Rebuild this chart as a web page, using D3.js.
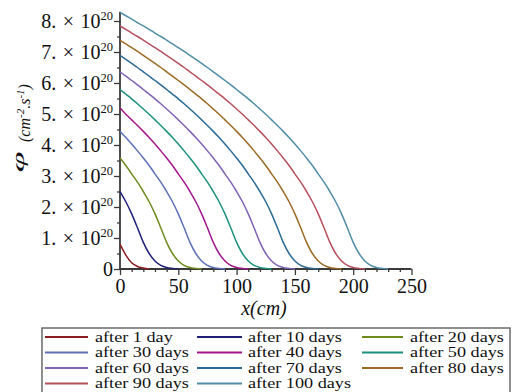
<!DOCTYPE html>
<html>
<head>
<meta charset="utf-8">
<script src="https://cdn.jsdelivr.net/npm/d3@7"></script>
<style>
  html, body { margin: 0; padding: 0; background: #fff; }
  svg { display: block; }
  text { font-family: "Liberation Serif", "DejaVu Serif", serif; fill: #111; }
</style>
</head>
<body>
<svg id="chart" width="512" height="392"></svg>
<script>
// Neutron flux profiles phi(x) after a given number of days (units of 1e20 cm^-2 s^-1)
const xGrid = [0,5,10,15,20,25,30,35,40,45,50,55,60,65,70,75,80,85,90,95,100,105,110,115,120,125,130,135,140,145,150,155,160,165,170,175,180,185,190,195,200,205,210,215,220,225,230];

const day1   = [0.80,0.45,0.20,0.08,0.03,0];
const day10  = [2.50,2.17,1.78,1.33,0.86,0.50,0.26,0.12,0.05,0.02,0];
const day20  = [3.58,3.34,3.07,2.80,2.50,2.17,1.78,1.33,0.86,0.50,0.26,0.12,0.05,0.02,0];
const day30  = [4.44,4.24,4.03,3.81,3.58,3.34,3.07,2.80,2.50,2.17,1.78,1.33,0.86,0.50,0.26,0.12,0.05,0.02,0];
const day40  = [5.20,4.99,4.81,4.63,4.44,4.24,4.03,3.81,3.58,3.34,3.07,2.80,2.50,2.17,1.78,1.33,0.86,0.50,0.26,0.12,0.05,0.02,0];
const day50  = [5.79,5.64,5.49,5.33,5.16,4.99,4.81,4.63,4.44,4.24,4.03,3.81,3.58,3.34,3.07,2.80,2.50,2.17,1.78,1.33,0.86,0.50,0.26,0.12,0.05,0.02,0];
const day60  = [6.36,6.22,6.08,5.94,5.79,5.64,5.49,5.33,5.16,4.99,4.81,4.63,4.44,4.24,4.03,3.81,3.58,3.34,3.07,2.80,2.50,2.17,1.78,1.33,0.86,0.50,0.26,0.12,0.05,0.02,0];
const day70  = [6.89,6.76,6.63,6.50,6.36,6.22,6.08,5.94,5.79,5.64,5.49,5.33,5.16,4.99,4.81,4.63,4.44,4.24,4.03,3.81,3.58,3.34,3.07,2.80,2.50,2.17,1.78,1.33,0.86,0.50,0.26,0.12,0.05,0.02,0];
const day80  = [7.38,7.26,7.14,7.02,6.89,6.76,6.63,6.50,6.36,6.22,6.08,5.94,5.79,5.64,5.49,5.33,5.16,4.99,4.81,4.63,4.44,4.24,4.03,3.81,3.58,3.34,3.07,2.80,2.50,2.17,1.78,1.33,0.86,0.50,0.26,0.12,0.05,0.02,0];
const day90  = [7.84,7.73,7.61,7.50,7.38,7.26,7.14,7.02,6.89,6.76,6.63,6.50,6.36,6.22,6.08,5.94,5.79,5.64,5.49,5.33,5.16,4.99,4.81,4.63,4.44,4.24,4.03,3.81,3.58,3.34,3.07,2.80,2.50,2.17,1.78,1.33,0.86,0.50,0.26,0.12,0.05,0.02,0];
const day100 = [8.28,8.17,8.06,7.95,7.84,7.73,7.61,7.50,7.38,7.26,7.14,7.02,6.89,6.76,6.63,6.50,6.36,6.22,6.08,5.94,5.79,5.64,5.49,5.33,5.16,4.99,4.81,4.63,4.44,4.24,4.03,3.81,3.58,3.34,3.07,2.80,2.50,2.17,1.78,1.33,0.86,0.50,0.26,0.12,0.05,0.02,0];

const seriesNames = ["after 1 day","after 10 days","after 20 days","after 30 days","after 40 days","after 50 days","after 60 days","after 70 days","after 80 days","after 90 days","after 100 days"];
const seriesValues = [day1, day10, day20, day30, day40, day50, day60, day70, day80, day90, day100];
const seriesColors = ["#8a1c22","#1d1f78","#6e8b1e","#5d70b6","#a3158c","#1b907e","#7f62b4","#2a6a95","#9b6a24","#b6505c","#4f8ea6"];

const yTicks = [0,1,2,3,4,5,6,7,8];
const yMinorTicks = [0.5,1.5,2.5,3.5,4.5,5.5,6.5,7.5];
const xTicks = [0,50,100,150,200,250];
const xMinorTicks = [10,20,30,40,60,70,80,90,110,120,130,140,160,170,180,190,210,220,230,240];

const svg = d3.select("#chart");

const x = d3.scaleLinear().domain([0, 250]).range([120, 411.5]);
const y = d3.scaleLinear().domain([0, 8]).range([269, 21]);

const line = d3.line()
  .x(d => x(d[0]))
  .y(d => y(d[1]))
  .curve(d3.curveMonotoneX);

const axisColor = "#3a3a3a";

// Y axis: major ticks with labels, minor ticks at half steps
const yAxisG = svg.append("g").attr("transform", `translate(${x(0)},0)`);
yAxisG.call(d3.axisLeft(y).tickValues(yTicks).tickSize(6).tickFormat(""));
yAxisG.append("g").call(d3.axisLeft(y).tickValues(yMinorTicks).tickSize(3).tickFormat(""));
yAxisG.selectAll(".domain").remove();
yAxisG.append("line").attr("x1", 0).attr("x2", 0).attr("y1", y(0)).attr("y2", y(8.3))
  .attr("stroke", axisColor).attr("stroke-width", 1.8);
yAxisG.selectAll(".tick line").attr("stroke", axisColor).attr("stroke-width", 1.3);

// X axis
const xAxisG = svg.append("g").attr("transform", `translate(0,${y(0)})`);
xAxisG.call(d3.axisBottom(x).tickValues(xTicks).tickSize(6).tickPadding(4).tickFormat(d3.format("d")));
xAxisG.append("g").call(d3.axisBottom(x).tickValues(xMinorTicks).tickSize(3).tickFormat(""));
xAxisG.selectAll(".domain").remove();
xAxisG.selectAll(".tick line").attr("stroke", axisColor).attr("stroke-width", 1.3);
xAxisG.selectAll("text")
  .attr("font-family", "Liberation Serif, serif")
  .attr("font-size", 20)
  .attr("fill", "#111");

// Y tick labels in the form "8. × 10^20"
const yLab = svg.append("g");
yTicks.forEach(v => {
  const t = yLab.append("text")
    .attr("x", 113).attr("y", y(v)).attr("dy", "0.33em")
    .attr("text-anchor", "end").attr("font-size", 20)
    .attr("word-spacing", 1.5);
  if (v === 0) {
    t.text("0");
  } else {
    t.append("tspan").text(v + ". \u00d7 10");
    t.append("tspan").attr("font-size", 12.5).attr("dy", -8).text("20");
  }
});

const series = seriesValues.map((vals, i) => ({
  name: seriesNames[i],
  color: seriesColors[i],
  points: vals.map((v, j) => [xGrid[j], v])
}));

svg.append("g").selectAll("path")
  .data(series)
  .join("path")
  .attr("d", d => line(d.points))
  .attr("fill", "none")
  .attr("stroke", d => d.color)
  .attr("stroke-width", 1.5);

// Axis baseline drawn over the flat tails
xAxisG.append("line").attr("x1", x(0)).attr("x2", x(250)).attr("y1", 0).attr("y2", 0)
  .attr("stroke", axisColor).attr("stroke-width", 1.8);

// Axis titles
svg.append("text")
  .attr("x", 264).attr("y", 315)
  .attr("text-anchor", "middle")
  .attr("font-style", "italic")
  .attr("font-size", 20)
  .text("x(cm)");

svg.append("text")
  .attr("transform", "translate(24,162) rotate(-90) scale(2.2,1)")
  .attr("text-anchor", "middle")
  .attr("font-style", "italic")
  .attr("font-size", 17)
  .text("\u03c6");

const yTitle = svg.append("text")
  .attr("transform", "translate(30,142) rotate(-90)")
  .attr("font-style", "italic")
  .attr("font-size", 16);
yTitle.append("tspan").text("(cm");
yTitle.append("tspan").attr("font-size", 11).attr("dy", -6).text("-2");
yTitle.append("tspan").attr("dy", 6).text(".s");
yTitle.append("tspan").attr("font-size", 11).attr("dy", -6).text("-1");
yTitle.append("tspan").attr("dy", 6).text(")");

// Legend
const legend = svg.append("g");
legend.append("rect")
  .attr("x", 42).attr("y", 328).attr("width", 468).attr("height", 80)
  .attr("fill", "#fff").attr("stroke", "#6a6a6a").attr("stroke-width", 1.5);

const colLine = [[45, 88], [197, 242], [362, 403]];
const colText = [95, 248, 410];
const rowY = [337, 352.5, 368, 383.5];

series.forEach((s, i) => {
  const r = Math.floor(i / 3), c = i % 3;
  const g = legend.append("g");
  g.append("line")
    .attr("x1", colLine[c][0]).attr("x2", colLine[c][1])
    .attr("y1", rowY[r]).attr("y2", rowY[r])
    .attr("stroke", s.color).attr("stroke-width", 2);
  g.append("text")
    .attr("transform", `translate(${colText[c]},${rowY[r] + 4.5}) scale(1.3,1)`)
    .attr("font-size", 14)
    .text(s.name);
});
</script>
</body>
</html>
